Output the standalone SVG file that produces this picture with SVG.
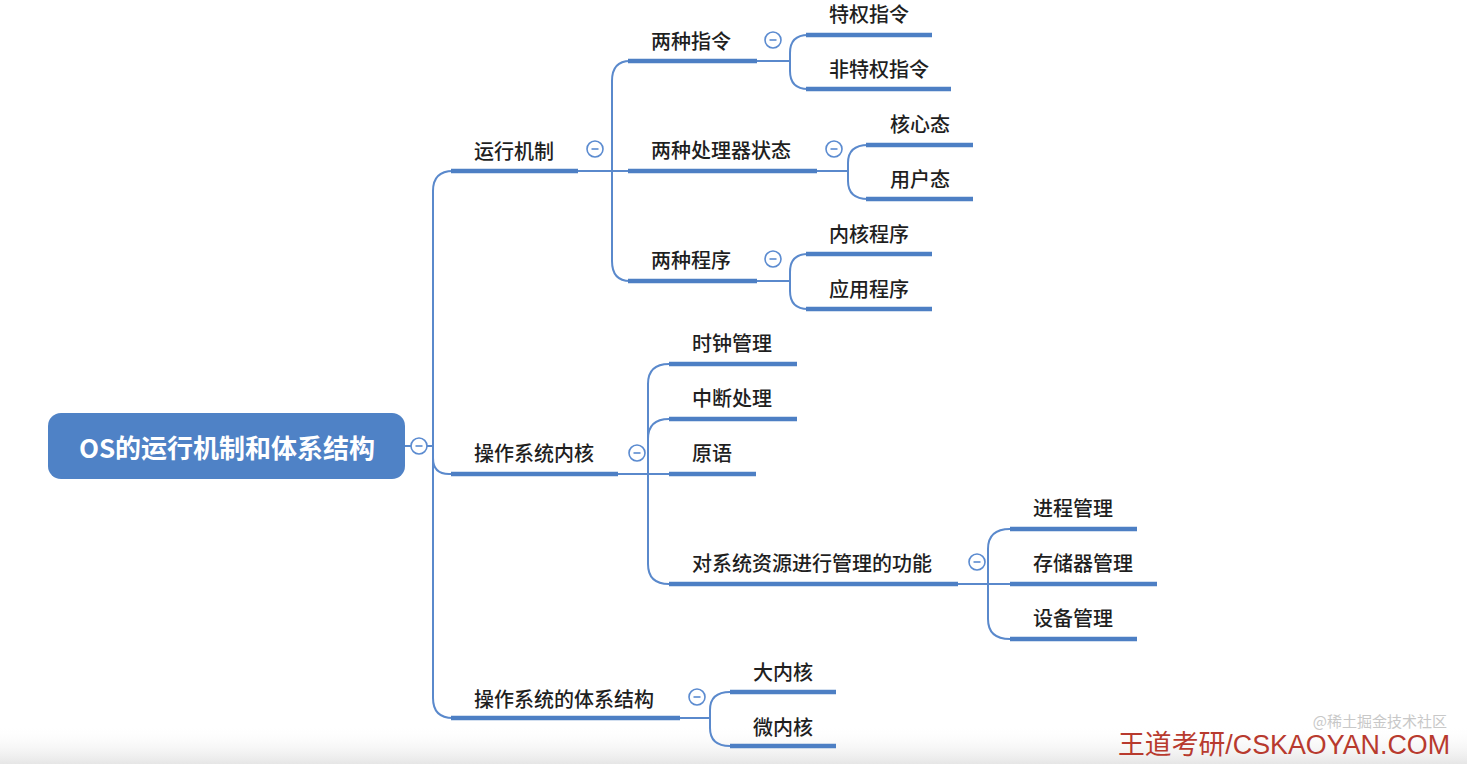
<svg xmlns="http://www.w3.org/2000/svg" width="1467" height="764" viewBox="0 0 1467 764">
<defs>
<linearGradient id="bot" x1="0" y1="0" x2="0" y2="1">
<stop offset="0" stop-color="#ffffff" stop-opacity="0"/>
<stop offset="1" stop-color="#e6e6e6"/>
</linearGradient>
<g id="tog"><circle cx="0" cy="0" r="8" fill="#fff" stroke="#5b8bd0" stroke-width="1.6"/><line x1="-3.5" y1="0" x2="3.5" y2="0" stroke="#5b8bd0" stroke-width="1.6"/></g>
</defs>
<style>
.t{font-family:"Noto Sans CJK SC","Noto Sans",sans-serif;font-size:20px;font-weight:500;fill:#1f1f1f}
.u{stroke:#4d7fc4;stroke-width:4.5;stroke-linecap:butt;fill:none}
.c{stroke:#5a89cc;stroke-width:2;fill:none}
</style>
<rect x="0" y="0" width="1467" height="764" fill="#ffffff"/>
<rect x="0" y="725" width="1467" height="39" fill="url(#bot)"/>

<g id="connectors">
<path class="c" d="M405,446 H433"/>
<path class="c" d="M433,446 V191 Q433,171 453,171"/>
<path class="c" d="M433,446 V458 Q433,474 449,474 H451"/>
<path class="c" d="M433,446 V698 Q433,718 453,718"/>
<path class="c" d="M578,171 H628"/>
<path class="c" d="M612,171 V81 Q612,61 630,61"/>
<path class="c" d="M612,171 V261 Q612,281 630,281"/>
<path class="c" d="M757,61 H790"/>
<path class="c" d="M790,61 V53 Q790,35 808,35"/>
<path class="c" d="M790,61 V71 Q790,89 808,89"/>
<path class="c" d="M817,171 H848"/>
<path class="c" d="M848,171 V163 Q848,145 868,145"/>
<path class="c" d="M848,171 V181 Q848,199 868,199"/>
<path class="c" d="M757,281 H790"/>
<path class="c" d="M790,281 V272 Q790,254 808,254"/>
<path class="c" d="M790,281 V291 Q790,309 808,309"/>
<path class="c" d="M618,474 H669"/>
<path class="c" d="M648,474 V384 Q648,364 669,364"/>
<path class="c" d="M648,474 V439 Q648,419 669,419"/>
<path class="c" d="M648,474 V564 Q648,584 669,584"/>
<path class="c" d="M958,584 H1010"/>
<path class="c" d="M988,584 V549 Q988,529 1010,529"/>
<path class="c" d="M988,584 V619 Q988,639 1010,639"/>
<path class="c" d="M680,718 H710"/>
<path class="c" d="M710,718 V710 Q710,692 730,692"/>
<path class="c" d="M710,718 V728 Q710,746 730,746"/>
</g>

<g id="root">
<rect x="48" y="413" width="357" height="66" rx="13" fill="#4f82c6"/>
<text x="227" y="458" text-anchor="middle" font-family="'Noto Sans CJK SC','Noto Sans',sans-serif" font-size="26" font-weight="700" fill="#ffffff">OS的运行机制和体系结构</text>
<use href="#tog" x="419" y="446"/>
</g>

<g id="n-yxjz"><text class="t" x="474" y="159">运行机制</text><line class="u" x1="451" y1="171" x2="578" y2="171"/><use href="#tog" x="595" y="149"/></g>
<g id="n-lzzl"><text class="t" x="651" y="49">两种指令</text><line class="u" x1="628" y1="61" x2="757" y2="61"/><use href="#tog" x="773" y="40"/></g>
<g id="n-tqzl"><text class="t" x="829" y="22">特权指令</text><line class="u" x1="806" y1="35" x2="932" y2="35"/></g>
<g id="n-ftqzl"><text class="t" x="829" y="77">非特权指令</text><line class="u" x1="806" y1="89" x2="951" y2="89"/></g>
<g id="n-clqzt"><text class="t" x="651" y="158">两种处理器状态</text><line class="u" x1="628" y1="171" x2="817" y2="171"/><use href="#tog" x="834" y="149"/></g>
<g id="n-hxt"><text class="t" x="890" y="132">核心态</text><line class="u" x1="866" y1="145" x2="973" y2="145"/></g>
<g id="n-yht"><text class="t" x="890" y="187">用户态</text><line class="u" x1="866" y1="199" x2="973" y2="199"/></g>
<g id="n-lzcx"><text class="t" x="651" y="268">两种程序</text><line class="u" x1="628" y1="281" x2="757" y2="281"/><use href="#tog" x="773" y="259"/></g>
<g id="n-nhcx"><text class="t" x="829" y="242">内核程序</text><line class="u" x1="806" y1="254" x2="932" y2="254"/></g>
<g id="n-yycx"><text class="t" x="829" y="297">应用程序</text><line class="u" x1="806" y1="309" x2="932" y2="309"/></g>

<g id="n-czxtnh"><text class="t" x="474" y="461">操作系统内核</text><line class="u" x1="451" y1="474" x2="618" y2="474"/><use href="#tog" x="637" y="453"/></g>
<g id="n-szgl"><text class="t" x="692" y="351">时钟管理</text><line class="u" x1="669" y1="364" x2="797" y2="364"/></g>
<g id="n-zdcl"><text class="t" x="692" y="406">中断处理</text><line class="u" x1="669" y1="419" x2="797" y2="419"/></g>
<g id="n-yy"><text class="t" x="692" y="461">原语</text><line class="u" x1="669" y1="474" x2="756" y2="474"/></g>
<g id="n-dxtzy"><text class="t" x="692" y="571">对系统资源进行管理的功能</text><line class="u" x1="669" y1="584" x2="958" y2="584"/><use href="#tog" x="977" y="562"/></g>
<g id="n-jcgl"><text class="t" x="1033" y="516">进程管理</text><line class="u" x1="1010" y1="529" x2="1137" y2="529"/></g>
<g id="n-ccqgl"><text class="t" x="1033" y="571">存储器管理</text><line class="u" x1="1010" y1="584" x2="1157" y2="584"/></g>
<g id="n-sbgl"><text class="t" x="1033" y="626">设备管理</text><line class="u" x1="1010" y1="639" x2="1137" y2="639"/></g>

<g id="n-txjg"><text class="t" x="474" y="707">操作系统的体系结构</text><line class="u" x1="451" y1="718" x2="680" y2="718"/><use href="#tog" x="697" y="697"/></g>
<g id="n-dnh"><text class="t" x="753" y="680">大内核</text><line class="u" x1="730" y1="692" x2="836" y2="692"/></g>
<g id="n-wnh"><text class="t" x="753" y="735">微内核</text><line class="u" x1="730" y1="746" x2="836" y2="746"/></g>

<text x="1447" y="727" text-anchor="end" font-family="'Noto Sans CJK SC',sans-serif" font-size="15" fill="#c8c8c8">@稀土掘金技术社区</text>
<text x="1450" y="754" text-anchor="end" font-family="'Liberation Sans','Noto Sans CJK SC',sans-serif" font-size="27" fill="#b83a2e" textLength="332" lengthAdjust="spacingAndGlyphs">王道考研/CSKAOYAN.COM</text>
</svg>
